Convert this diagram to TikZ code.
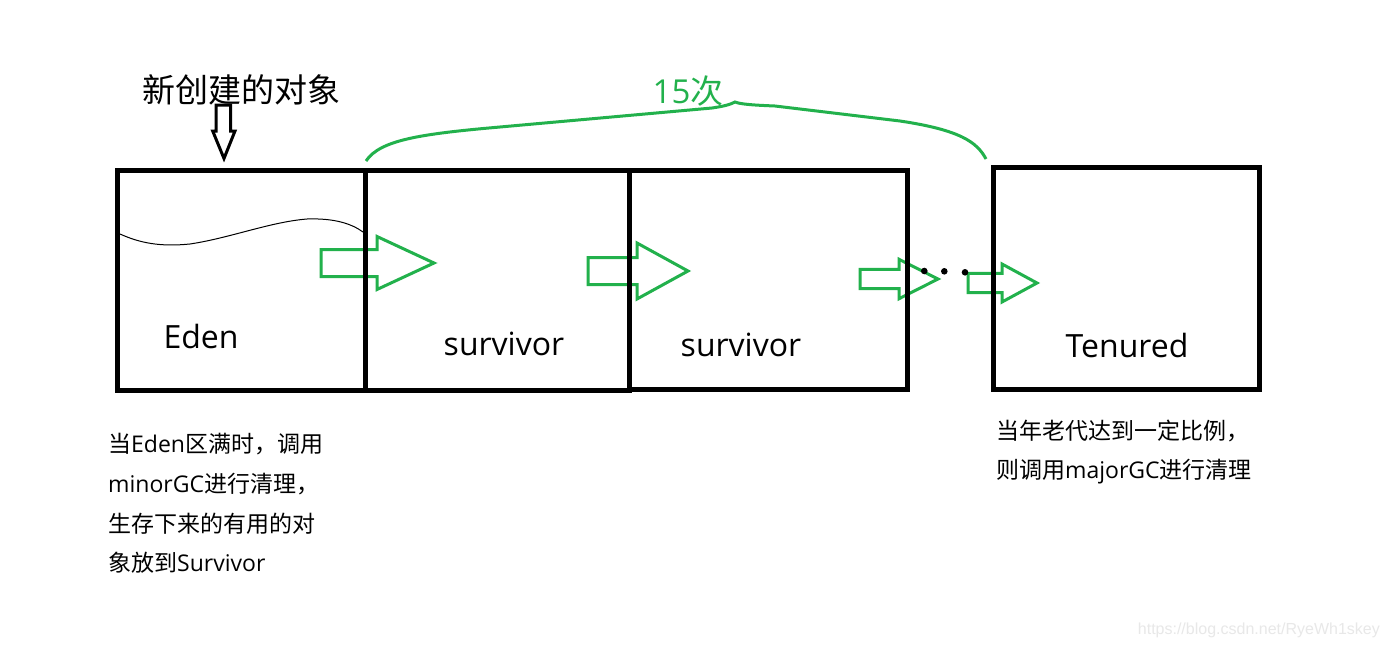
\documentclass[tikz,border=0pt]{standalone}
\usepackage{fontspec}
\setmainfont{Open Sans}
\newfontfamily\cjk{Noto Sans CJK SC}
\newfontfamily\wmfont{Liberation Sans}
\definecolor{pgreen}{RGB}{34,177,76}
\newcommand\zh[1]{{\cjk #1}}
\newcommand\blockarrow[6]{%
  \draw[garrow] (#1,#4-#5) -- (#2,#4-#5) -- (#2,#4-#6) -- (#3,#4) -- (#2,#4+#6) -- (#2,#4+#5) -- (#1,#4+#5) -- cycle;}
\begin{document}
\begin{tikzpicture}[x=1pt,y=-1pt,
  box/.style={draw, line width=5pt, inner sep=0pt, outer sep=0pt, anchor=north west},
  garrow/.style={draw=pgreen, line width=3pt, line join=miter},
  lbl/.style={font=\fontsize{32}{38}\selectfont, anchor=base, inner sep=0pt},
  note/.style={font=\fontsize{23}{28}\selectfont, anchor=base west, inner sep=0pt}]
\useasboundingbox (0,0) rectangle (1390,648);
\fill[white] (0,0) rectangle (1390,648);

% green block arrows (drawn under the boxes)
\blockarrow{321}{377}{434}{263}{13.5}{26.5}
\blockarrow{588}{637}{688}{271}{13.5}{28}
\blockarrow{860}{899}{938}{279}{9.7}{19.7}
\blockarrow{968}{1002}{1037}{283}{9.7}{19}

% boxes
\node[box, minimum width=248.8pt, minimum height=220pt] (eden) at (117,170.5) {};
\node[box, minimum width=263.4pt, minimum height=219.5pt] (surv1) at (365.8,170.5) {};
\node[box, minimum width=277.8pt, minimum height=219pt] (surv2) at (629.2,170.5) {};
\node[box, minimum width=266pt, minimum height=222pt] (tenured) at (993,167.5) {};

% wave in Eden
\draw[line width=1pt] (120,234) .. controls (140,243) and (160,247) .. (190,244)
  .. controls (230,238) and (270,222) .. (307,219) .. controls (335,218) and (352,224) .. (363,232);

% dots
\fill (924.3,271) circle[radius=3.3pt];
\fill (944.3,271.3) circle[radius=3.3pt];
\fill (965,272.3) circle[radius=3.3pt];

% labels in boxes
\node[lbl] (edenlbl) at (201,348) {Eden};
\node[lbl] (s1lbl) at (504,355.5) {survivor};
\node[lbl] (s2lbl) at (741,356) {survivor};
\node[lbl] (tlbl) at (1127,357) {Tenured};

% title and down arrow
\node[font=\cjk\fontsize{33}{38}\selectfont, anchor=base, inner sep=0pt] (title) at (241.5,102) {新创建的对象};
\draw[line width=3pt, line join=miter] (216,105) -- (230.7,105) -- (230.7,131) -- (235,131) -- (224,158.5) -- (212.7,131) -- (216,131) -- cycle;

% brace and 15次
\draw[pgreen, line width=3pt] (366,161) .. controls (380,140) and (420,134) .. (500,127) -- (712,108)
  .. controls (726,106) and (731,104) .. (735,102) .. controls (740,104) and (750,105) .. (775,106)
  -- (900,121) .. controls (960,130) and (977,142) .. (986,159);
\node[lbl, text=pgreen, font=\fontsize{33}{38}\selectfont] (times) at (688,103) {15\zh{次}};

% notes
\node[note] (n1) at (108,452) {\zh{当}Eden\zh{区满时，调用}};
\node[note] (n2) at (108,492) {minorGC\zh{进行清理，}};
\node[note] (n3) at (108,532) {\zh{生存下来的有用的对}};
\node[note] (n4) at (108,571) {\zh{象放到}Survivor};
\node[note] (m1) at (996,439) {\zh{当年老代达到一定比例，}};
\node[note] (m2) at (996,478) {\zh{则调用}majorGC\zh{进行清理}};

% watermark
\node[font=\wmfont\fontsize{16}{19}\selectfont, text=gray!18, anchor=base east, inner sep=0pt] (wm) at (1380,634) {https://blog.csdn.net/RyeWh1skey};
\end{tikzpicture}
\end{document}
